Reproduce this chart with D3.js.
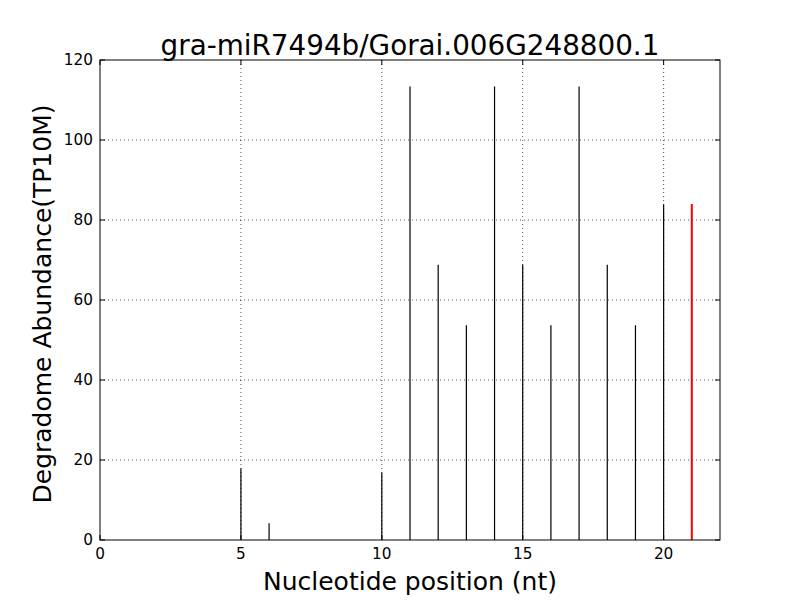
<!DOCTYPE html>
<html><head><meta charset="utf-8">
<script src="https://cdn.jsdelivr.net/npm/d3@7"></script>
<style>body{margin:0;background:#fff}svg{display:block}text{font-family:"DejaVu Sans",sans-serif}</style>
</head><body><svg id="c" width="800" height="600"></svg>
<script>
const title = "gra-miR7494b/Gorai.006G248800.1";
const positions = [5, 6, 10, 11, 12, 13, 14, 15, 16, 17, 18, 19, 20, 21];
const abundance = [17.9, 4.2, 16.9, 113.4, 68.8, 53.7, 113.4, 68.8, 53.7, 113.4, 68.8, 53.7, 83.9, 84.0];
const highlightPos = 21;
const xTicks = [0, 5, 10, 15, 20];
const yTicks = [0, 20, 40, 60, 80, 100, 120];

const svg = d3.select("#c");
const m = {l: 100, r: 720, t: 60, b: 540};
const x = d3.scaleLinear().domain([0, 22]).range([m.l, m.r]);
const y = d3.scaleLinear().domain([0, 120]).range([m.b, m.t]);

// grid
const g = svg.append("g");
xTicks.forEach(t => { if (t > 0) g.append("line").attr("x1", x(t)).attr("x2", x(t)).attr("y1", m.t).attr("y2", m.b)
  .attr("stroke", "#000").attr("stroke-width", 0.7).attr("stroke-dasharray", "1,3"); });
yTicks.forEach(t => { if (t > 0 && t < 120) g.append("line").attr("x1", m.l).attr("x2", m.r).attr("y1", y(t)).attr("y2", y(t))
  .attr("stroke", "#000").attr("stroke-width", 0.7).attr("stroke-dasharray", "1,3"); });

// bars
svg.append("g").selectAll("line").data(positions.map((p, i) => ({p, v: abundance[i]}))).join("line")
  .attr("x1", d => x(d.p)).attr("x2", d => x(d.p))
  .attr("y1", y(0)).attr("y2", d => y(d.v))
  .attr("stroke", d => d.p === highlightPos ? "#ff0000" : "#000")
  .attr("stroke-width", d => d.p === highlightPos ? 2 : 1.2);

// axes (ticks inward on all sides)
const ax = svg.append("g");
const tl = 5;
const fs = 15.3;
xTicks.forEach(t => {
  ax.append("line").attr("x1", x(t)).attr("x2", x(t)).attr("y1", m.b).attr("y2", m.b - tl).attr("stroke", "#000");
  ax.append("line").attr("x1", x(t)).attr("x2", x(t)).attr("y1", m.t).attr("y2", m.t + tl).attr("stroke", "#000");
  ax.append("text").attr("x", x(t)).attr("y", m.b + 19).attr("text-anchor", "middle").attr("font-size", fs).text(t);
});
yTicks.forEach(t => {
  ax.append("line").attr("x1", m.l).attr("x2", m.l + tl).attr("y1", y(t)).attr("y2", y(t)).attr("stroke", "#000");
  ax.append("line").attr("x1", m.r).attr("x2", m.r - tl).attr("y1", y(t)).attr("y2", y(t)).attr("stroke", "#000");
  ax.append("text").attr("x", m.l - 7).attr("y", y(t) + 5.2).attr("text-anchor", "end").attr("font-size", fs).text(t);
});
svg.append("rect").attr("x", m.l).attr("y", m.t).attr("width", m.r - m.l).attr("height", m.b - m.t)
  .attr("fill", "none").attr("stroke", "#000").attr("stroke-width", 1);

svg.append("text").attr("x", 410).attr("y", 54.5).attr("text-anchor", "middle").attr("font-size", 27.8).text(title);
svg.append("text").attr("x", 410).attr("y", 590).attr("text-anchor", "middle").attr("font-size", 25).text("Nucleotide position (nt)");
svg.append("text").attr("transform", "translate(51,304) rotate(-90)").attr("text-anchor", "middle").attr("font-size", 25).text("Degradome Abundance(TP10M)");
</script></body></html>
